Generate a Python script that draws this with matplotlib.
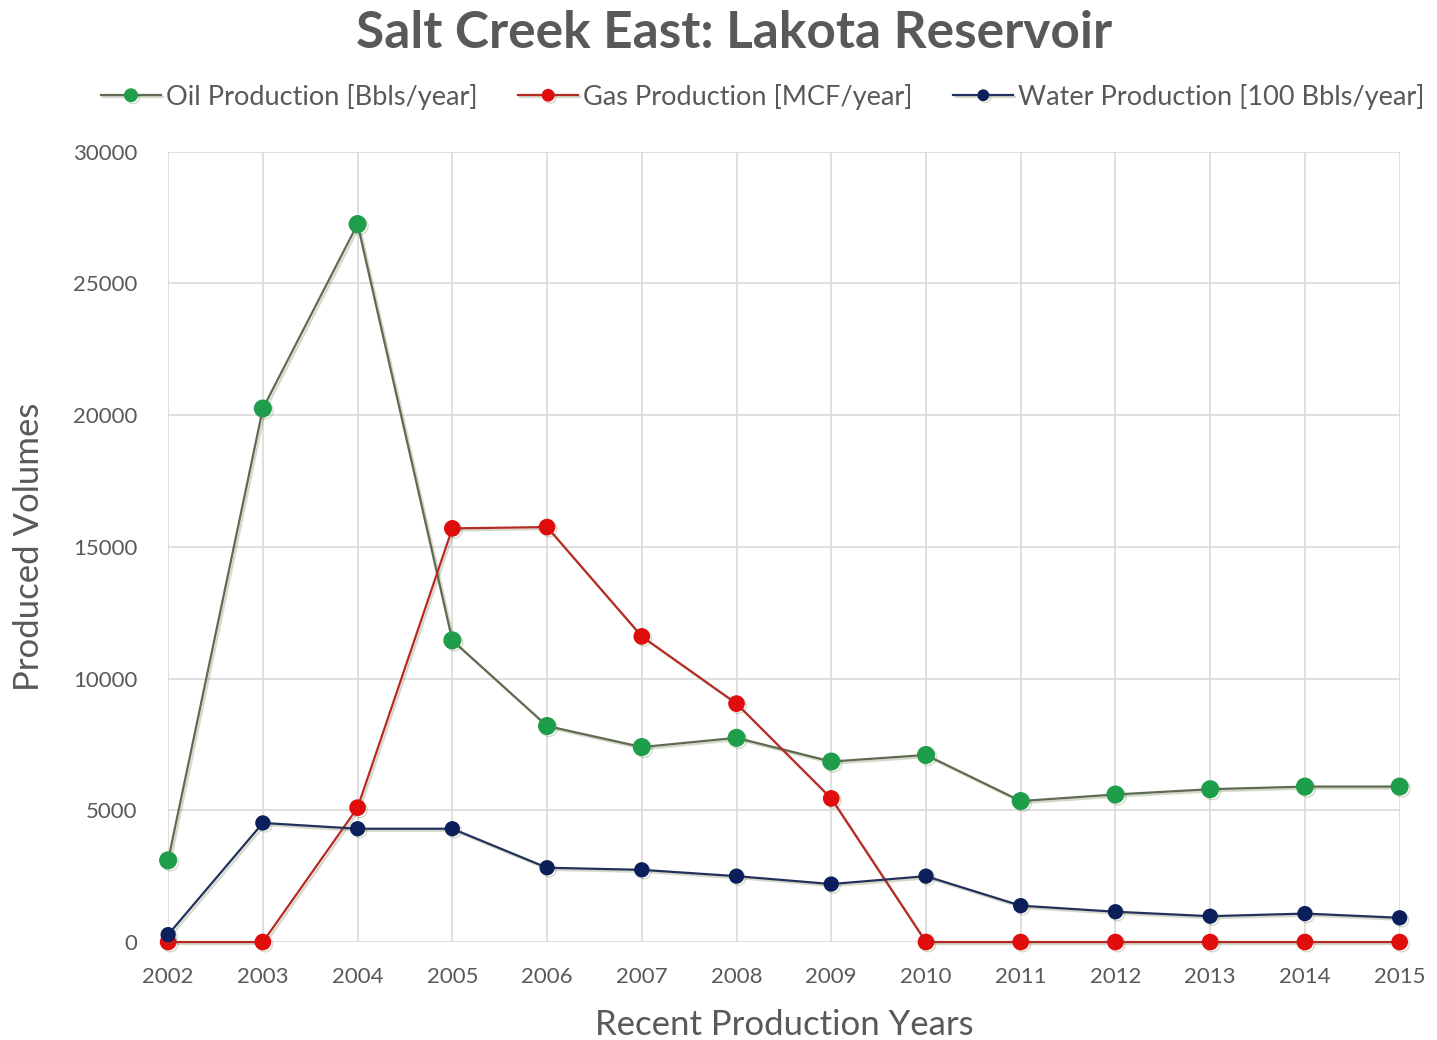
import matplotlib
matplotlib.use("Agg")
import matplotlib.pyplot as plt
import matplotlib.patheffects as pe

# Yearly production for the Lakota reservoir
years = [2002, 2003, 2004, 2005, 2006, 2007, 2008, 2009, 2010, 2011, 2012, 2013, 2014, 2015]
oil = [3100, 20250, 27250, 11450, 8200, 7400, 7750, 6850, 7100, 5350, 5600, 5800, 5900, 5900]
gas = [0, 0, 5100, 15700, 15750, 11600, 9050, 5450, 0, 0, 0, 0, 0, 0]
water = [280, 4520, 4300, 4300, 2820, 2740, 2500, 2200, 2500, 1380, 1150, 980, 1080, 920]

series = [
    ("Oil Production [Bbls/year]", oil, "#5f6a52", "#1e9e4a", 12),
    ("Gas Production [MCF/year]", gas, "#b62a24", "#e00d0d", 11),
    ("Water Production [100 Bbls/year]", water, "#22305c", "#0c1f5a", 10),
]

plt.rcParams['font.family'] = ['Lato', 'DejaVu Sans']

fig = plt.figure(figsize=(14.37, 10.40), dpi=100)
ax = fig.add_axes([0.117, 0.0942, 0.857, 0.760])

shadow = [pe.SimpleLineShadow(offset=(1.5, -1.5), alpha=0.25, shadow_color="#556b2f"), pe.Normal()]
for label, vals, lc, mc, ms in series:
    ax.plot(years, vals, color=lc, linewidth=1.6, marker="o", markersize=ms,
            markerfacecolor=mc, markeredgecolor=mc, label=label, clip_on=False,
            zorder=3, path_effects=shadow)

ax.set_xlim(2002, 2015)
ax.set_ylim(0, 30000)
ax.set_xticks(years)
ax.set_yticks(range(0, 30001, 5000))
ax.grid(True, color="#d9d9d9", linewidth=1.2)
ax.set_axisbelow(True)
for s in ax.spines.values():
    s.set_visible(False)
ax.tick_params(length=0, labelsize=16, colors="#595959")
ax.tick_params(axis="x", pad=18)
ax.tick_params(axis="y", pad=22)

ax.set_xlabel("Recent Production Years", fontsize=25, color="#595959", labelpad=16)
ax.set_ylabel("Produced Volumes", fontsize=25, color="#595959", labelpad=20)

fig.text(0.511, 0.968, "Salt Creek East: Lakota Reservoir", ha="center", va="center",
         fontsize=37, fontweight="bold", color="#595959")

leg = ax.legend(loc="center", bbox_to_anchor=(0.531, 0.907), bbox_transform=fig.transFigure,
                ncol=3, frameon=False, fontsize=19.5, handlelength=2.2, handletextpad=0.2,
                columnspacing=1.5, markerscale=0.75)
for t in leg.get_texts():
    t.set_color("#595959")

fig.savefig("out.png", dpi=100, facecolor="white")
